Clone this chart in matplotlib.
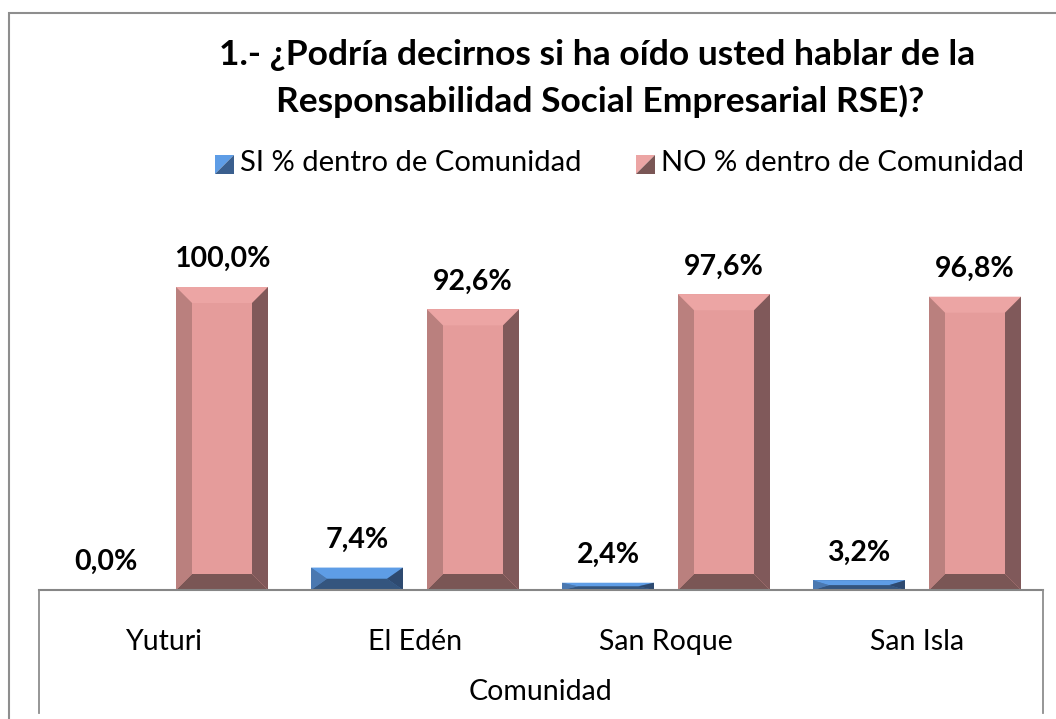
import matplotlib
matplotlib.use("Agg")
import matplotlib.pyplot as plt
from matplotlib.patches import Polygon, Rectangle
from matplotlib.lines import Line2D
import numpy as np

plt.rcParams['font.family'] = ['Lato', 'DejaVu Sans']

# ---- data ----
categories = ["Yuturi", "El Edén", "San Roque", "San Isla"]
si_values = [0.0, 7.4, 2.4, 3.2]
no_values = [100.0, 92.6, 97.6, 96.8]
series_names = ["SI % dentro de Comunidad", "NO % dentro de Comunidad"]
title_lines = ["1.- ¿Podría decirnos si ha oído usted hablar de la",
               "Responsabilidad Social Empresarial RSE)?"]
axis_title = "Comunidad"

W, H = 1056, 719
fig = plt.figure(figsize=(W / 100, H / 100), dpi=100)


def fx(x):
    return x / W


def fy(y):
    return 1 - y / H


# axes geometry (pixels, top-left origin)
ax_left, ax_right = 38.5, 1042.5
ax_bottom, ax_top = 590, 287
ax = fig.add_axes([fx(ax_left), fy(ax_bottom), (ax_right - ax_left) / W, (ax_bottom - ax_top) / H])
ax.set_xlim(-0.5, len(categories) - 0.5)
ax.set_ylim(0, 100)
ax.patch.set_alpha(0)
for s in ["top", "left", "right"]:
    ax.spines[s].set_visible(False)
ax.spines["bottom"].set_color("#868686")
ax.spines["bottom"].set_linewidth(1.5)
ax.set_yticks([])
ax.set_xticks(range(len(categories)))
ax.set_xticklabels(categories, fontsize=20.5)
ax.tick_params(axis="x", length=0, pad=28)

px_per_unit_x = (ax_right - ax_left) / len(categories)
px_per_unit_y = (ax_bottom - ax_top) / 100.0
bar_w = 92 / px_per_unit_x
offset = 58 / px_per_unit_x
bev_x = 16 / px_per_unit_x
bev_y = 16 / px_per_unit_y

styles = [
    dict(front="#4F81BD", top="#5E9DE6", left="#4A78B0", right="#2E4A70", bottom="#34557E"),
    dict(front="#E59C9B", top="#ECA5A4", left="#BA807E", right="#80595A", bottom="#7A5655"),
]

x = np.arange(len(categories))
for vals, off, st in [(si_values, -offset, styles[0]), (no_values, offset, styles[1])]:
    bars = ax.bar(x + off, vals, width=bar_w, color=st["front"], linewidth=0)
    for rect, v in zip(bars, vals):
        x0 = rect.get_x()
        x1 = x0 + rect.get_width()
        h = rect.get_height()
        if h > 0:
            by = min(bev_y, h / 2)
            bx = bev_x
            faces = [
                ([(x0, h), (x1, h), (x1 - bx, h - by), (x0 + bx, h - by)], st["top"]),
                ([(x0, 0), (x1, 0), (x1 - bx, by), (x0 + bx, by)], st["bottom"]),
                ([(x0, 0), (x0 + bx, by), (x0 + bx, h - by), (x0, h)], st["left"]),
                ([(x1, 0), (x1 - bx, by), (x1 - bx, h - by), (x1, h)], st["right"]),
            ]
            for pts, c in faces:
                ax.add_patch(Polygon(pts, closed=True, facecolor=c, edgecolor="none"))
        ax.annotate(f"{v:.1f}%".replace(".", ","), (x0 + rect.get_width() / 2, h),
                    xytext=(0, 20), textcoords="offset points", ha="center", va="center",
                    fontsize=20.5, fontweight="bold", annotation_clip=False)

# axis title
fig.text(fx((ax_left + ax_right) / 2), fy(692), axis_title, ha="center", va="center", fontsize=20.5)

# title
fig.text(fx(597), fy(65), title_lines[0], ha="center", va="baseline", fontsize=25.5, fontweight="bold")
fig.text(fx(600), fy(112), title_lines[1], ha="center", va="baseline", fontsize=25.5, fontweight="bold")

# legend (manual)
def legend_square(xl, yt, size, light, dark):
    pts_light = [(fx(xl), fy(yt)), (fx(xl + size), fy(yt)), (fx(xl), fy(yt + size))]
    pts_dark = [(fx(xl + size), fy(yt)), (fx(xl + size), fy(yt + size)), (fx(xl), fy(yt + size))]
    fig.add_artist(Polygon(pts_light, closed=True, facecolor=light, edgecolor="none", transform=fig.transFigure))
    fig.add_artist(Polygon(pts_dark, closed=True, facecolor=dark, edgecolor="none", transform=fig.transFigure))

legend_square(215, 155, 19, "#5E9DE6", "#3A5F8E")
fig.text(fx(240), fy(163), series_names[0], ha="left", va="center", fontsize=21)
legend_square(636, 155, 19, "#ECA5A4", "#7A5655")
fig.text(fx(661), fy(163), series_names[1], ha="left", va="center", fontsize=21)

# frames
fig.add_artist(Rectangle((fx(9), fy(740)), fx(1080), (740 - 13) / H, facecolor="none",
                         edgecolor="#8E8E8E", linewidth=1.5, transform=fig.transFigure))
for xx in (ax_left, ax_right):
    fig.add_artist(Line2D([fx(xx), fx(xx)], [fy(590), fy(713)], color="#8E8E8E", linewidth=1.3,
                          transform=fig.transFigure))

fig.savefig("out.png", dpi=100, facecolor="white")
